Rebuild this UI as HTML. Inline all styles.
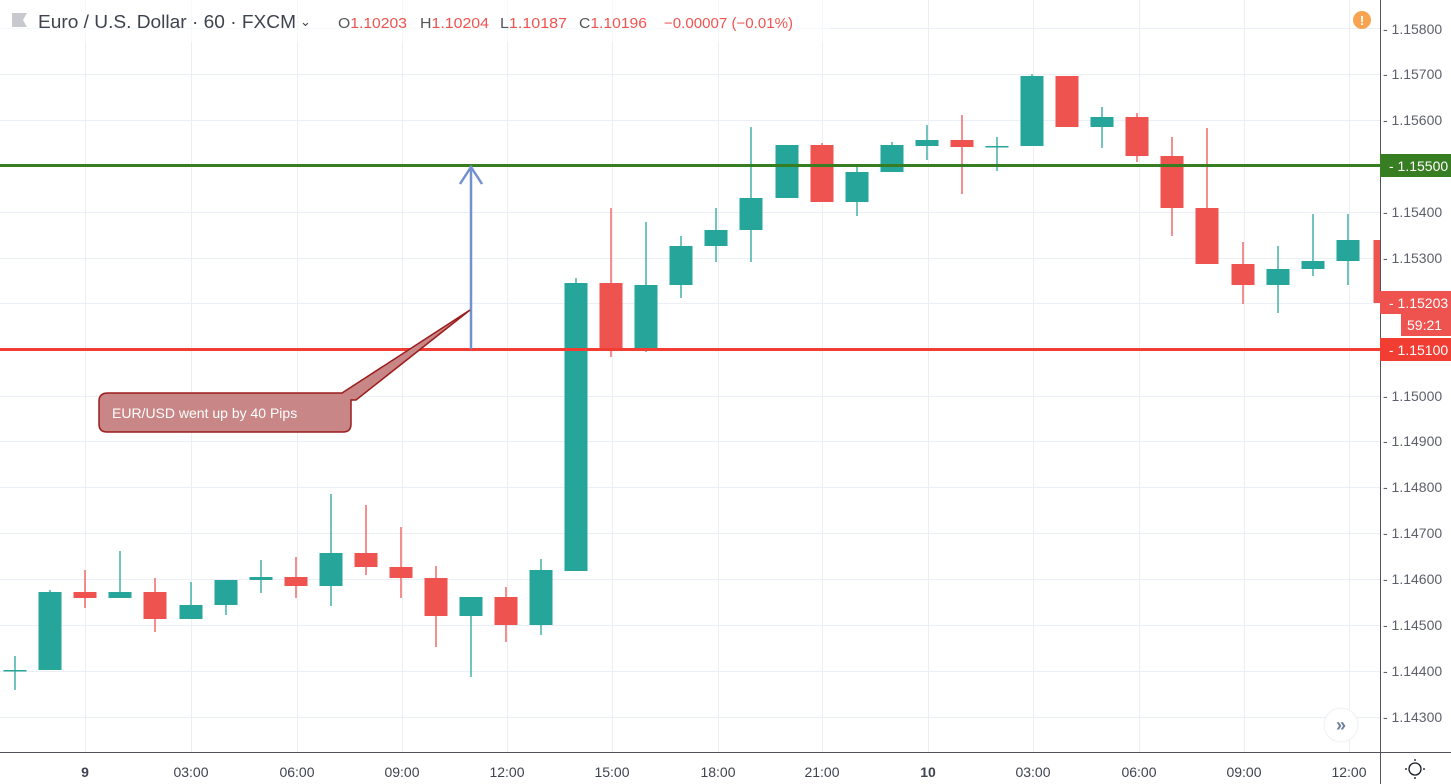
<!DOCTYPE html>
<html><head><meta charset="utf-8"><style>
html,body{margin:0;padding:0;background:#fff;}
svg{display:block;font-family:"Liberation Sans",sans-serif;}
</style></head><body>
<svg width="1451" height="784" viewBox="0 0 1451 784" xmlns="http://www.w3.org/2000/svg">
<rect width="1451" height="784" fill="#fff"/>
<g stroke="#e9eff5" stroke-width="1">
<line x1="0" y1="28.5" x2="1380" y2="28.5"/><line x1="0" y1="74.5" x2="1380" y2="74.5"/><line x1="0" y1="120.5" x2="1380" y2="120.5"/><line x1="0" y1="212.5" x2="1380" y2="212.5"/><line x1="0" y1="258.5" x2="1380" y2="258.5"/><line x1="0" y1="303.5" x2="1380" y2="303.5"/><line x1="0" y1="396.5" x2="1380" y2="396.5"/><line x1="0" y1="441.5" x2="1380" y2="441.5"/><line x1="0" y1="487.5" x2="1380" y2="487.5"/><line x1="0" y1="533.5" x2="1380" y2="533.5"/><line x1="0" y1="579.5" x2="1380" y2="579.5"/><line x1="0" y1="625.5" x2="1380" y2="625.5"/><line x1="0" y1="671.5" x2="1380" y2="671.5"/><line x1="0" y1="717.5" x2="1380" y2="717.5"/>
<line x1="85.5" y1="0" x2="85.5" y2="752"/><line x1="191.5" y1="0" x2="191.5" y2="752"/><line x1="297.5" y1="0" x2="297.5" y2="752"/><line x1="402.5" y1="0" x2="402.5" y2="752"/><line x1="507.5" y1="0" x2="507.5" y2="752"/><line x1="612.5" y1="0" x2="612.5" y2="752"/><line x1="718.5" y1="0" x2="718.5" y2="752"/><line x1="822.5" y1="0" x2="822.5" y2="752"/><line x1="928.5" y1="0" x2="928.5" y2="752"/><line x1="1033.5" y1="0" x2="1033.5" y2="752"/><line x1="1139.5" y1="0" x2="1139.5" y2="752"/><line x1="1244.5" y1="0" x2="1244.5" y2="752"/><line x1="1349.5" y1="0" x2="1349.5" y2="752"/>
</g>
<g id="candles"></g>
<line x1="0" y1="165.5" x2="1380" y2="165.5" stroke="#377d22" stroke-width="3"/>
<line x1="0" y1="349.5" x2="1380" y2="349.5" stroke="#f23d33" stroke-width="3"/>
<g stroke="#7390cf" stroke-width="2.5" fill="none">
<line x1="471" y1="349" x2="471" y2="166"/>
<polyline points="460,184 471,167 482,184"/>
</g>
<path d="M108,393 L342,393 L470,310 L356,400 L351,400 L351,424 Q351,432 343,432 L107,432 Q99,432 99,424 L99,401 Q99,393 108,393 Z" fill="#c88686" stroke="#9b1c1c" stroke-width="1.5"/>
<text x="112" y="418" font-size="14" fill="#fff">EUR/USD went up by 40 Pips</text>
<rect x="0" y="0" width="830" height="42" fill="#fff" opacity="0.6"/>
<rect x="12" y="13" width="9" height="14" fill="#c8c9ce"/><polygon points="21,13 27,13 23,20 27,27 21,27" fill="#c8c9ce"/>
<text x="38" y="28" font-size="18" fill="#3e4350" textLength="258" lengthAdjust="spacingAndGlyphs">Euro / U.S. Dollar · 60 · FXCM</text>
<text x="300" y="26" font-size="13" fill="#3e4350">⌄</text>
<g font-size="14.5">
<text x="338" y="28" textLength="69" lengthAdjust="spacingAndGlyphs"><tspan fill="#555">O</tspan><tspan fill="#ef5350">1.10203</tspan></text>
<text x="420" y="28" textLength="69" lengthAdjust="spacingAndGlyphs"><tspan fill="#555">H</tspan><tspan fill="#ef5350">1.10204</tspan></text>
<text x="500" y="28" textLength="67" lengthAdjust="spacingAndGlyphs"><tspan fill="#555">L</tspan><tspan fill="#ef5350">1.10187</tspan></text>
<text x="579" y="28" textLength="68" lengthAdjust="spacingAndGlyphs"><tspan fill="#555">C</tspan><tspan fill="#ef5350">1.10196</tspan></text>
<text x="664" y="28" fill="#ef5350" textLength="129" lengthAdjust="spacingAndGlyphs">−0.00007 (−0.01%)</text>
</g>
<circle cx="1362" cy="20" r="9" fill="#f7a350"/><text x="1362" y="25" font-size="13" fill="#fff" text-anchor="middle" font-weight="bold">!</text>
<circle cx="1341" cy="725" r="17" fill="#fff" stroke="#eef0f3"/><text x="1341" y="731" font-size="18" fill="#6b7f99" text-anchor="middle" font-weight="bold">»</text>
<rect x="1380" y="0" width="71" height="784" fill="#fff"/>
<rect x="0" y="752" width="1451" height="32" fill="#fff"/>
<line x1="1380.5" y1="0" x2="1380.5" y2="784" stroke="#50535e" stroke-width="1"/>
<line x1="0" y1="752.5" x2="1451" y2="752.5" stroke="#50535e" stroke-width="1"/>
<g font-size="14" fill="#5d606b" id="ylab"></g>
<rect x="1380" y="154" width="71" height="23" fill="#377d22"/><text x="1389" y="171" font-size="14" fill="#fff">- 1.15500</text>
<rect x="1380" y="291" width="71" height="23" fill="#ef5350"/><text x="1389" y="308" font-size="14" fill="#fff">- 1.15203</text>
<rect x="1401" y="314" width="50" height="22" fill="#ef5350"/><text x="1407" y="330" font-size="14" fill="#fff">59:21</text>
<rect x="1380" y="338" width="71" height="23" fill="#f23d33"/><text x="1389" y="355" font-size="14" fill="#fff">- 1.15100</text>
<g font-size="14" fill="#3e4350" text-anchor="middle">
<text x="85" y="777" font-weight="bold">9</text><text x="191" y="777">03:00</text><text x="297" y="777">06:00</text><text x="402" y="777">09:00</text><text x="507" y="777">12:00</text><text x="612" y="777">15:00</text><text x="718" y="777">18:00</text><text x="822" y="777">21:00</text><text x="928" y="777" font-weight="bold">10</text><text x="1033" y="777">03:00</text><text x="1139" y="777">06:00</text><text x="1244" y="777">09:00</text><text x="1349" y="777">12:00</text>
</g>
<g stroke="#131722" stroke-width="1.3" fill="none"><circle cx="1415" cy="769" r="6"/><line x1="1415" y1="759" x2="1415" y2="761"/><line x1="1415" y1="777" x2="1415" y2="779"/><line x1="1405" y1="769" x2="1407" y2="769"/><line x1="1423" y1="769" x2="1425" y2="769"/></g>
<script>
var G="#26a69a",R="#ef5350",ns="http://www.w3.org/2000/svg";
var c=[[15,670,671,656,690,G],[50,592,670,590,670,G],[85,592,598,570,608,R],[120,592,598,551,598,G],[155,592,619,578,632,R],[191,605,619,582,619,G],[226,580,605,580,615,G],[261,577,580,560,593,G],[296,577,586,557,598,R],[331,553,586,494,606,G],[366,553,567,505,575,R],[401,567,578,527,598,R],[436,578,616,566,647,R],[471,597,616,597,677,G],[506,597,625,587,642,R],[541,570,625,559,635,G],[576,283,571,278,571,G],[611,283,349,208,357,R],[646,285,349,222,352,G],[681,246,285,236,298,G],[716,230,246,208,262,G],[751,198,230,127,262,G],[787,145,198,145,198,G],[822,145,202,143,202,R],[857,172,202,166,216,G],[892,145,172,142,172,G],[927,140,146,125,160,G],[962,140,147,115,194,R],[997,146,147,137,171,G],[1032,76,146,74,146,G],[1067,76,127,76,127,R],[1102,117,127,107,148,G],[1137,117,156,113,162,R],[1172,156,208,137,236,R],[1207,208,264,128,264,R],[1243,264,285,242,304,R],[1278,269,285,246,313,G],[1313,261,269,214,276,G],[1348,240,261,214,285,G],[1385,240,303,240,303,R]];
var g=document.getElementById("candles");
c.forEach(function(d){var l=document.createElementNS(ns,"line");l.setAttribute("x1",d[0]);l.setAttribute("x2",d[0]);l.setAttribute("y1",d[3]);l.setAttribute("y2",d[4]);l.setAttribute("stroke",d[5]);l.setAttribute("stroke-width","1.3");g.appendChild(l);
var r=document.createElementNS(ns,"rect");var h=Math.max(d[2]-d[1],1.5);r.setAttribute("x",d[0]-11.5);r.setAttribute("y",d[1]);r.setAttribute("width",23);r.setAttribute("height",h);r.setAttribute("fill",d[5]);g.appendChild(r);});
var yl=document.getElementById("ylab"),ps=[["1.15800",29],["1.15700",74],["1.15600",120],["1.15400",212],["1.15300",258],["1.15000",396],["1.14900",441],["1.14800",487],["1.14700",533],["1.14600",579],["1.14500",625],["1.14400",671],["1.14300",717]];
ps.forEach(function(p){var t=document.createElementNS(ns,"text");t.setAttribute("x",1383);t.setAttribute("y",p[1]+5);t.textContent="- "+p[0];yl.appendChild(t);});
</script>
</svg>
</body></html>
